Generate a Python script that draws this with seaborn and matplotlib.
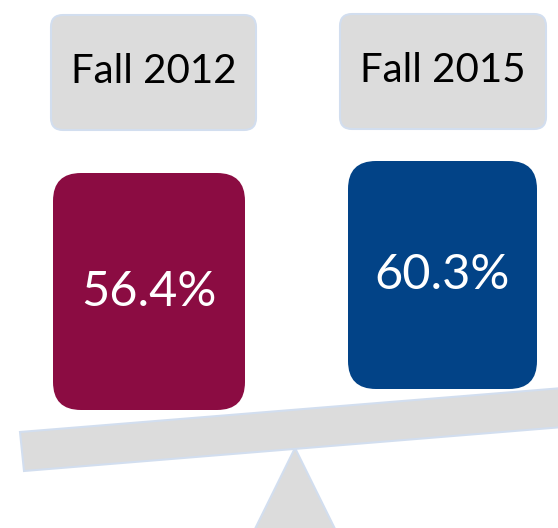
"""
Balance-scale infographic: share in Fall 2012 vs Fall 2015.
"""
import matplotlib.pyplot as plt
import seaborn as sns
from matplotlib.patches import FancyBboxPatch, Polygon

terms = ["Fall 2012", "Fall 2015"]
rates = [56.4, 60.3]
box_colors = ["#8B0C42", "#024387"]

# layout in pixel space (x from left, y from top)
label_boxes = [(51, 15, 205, 115), (340, 14, 206, 115)]
value_boxes = [(53, 173, 192, 237), (348, 161, 189, 228)]

sns.set_theme(style="white")
plt.rcParams["font.family"] = ["Lato", "DejaVu Sans"]

fig = plt.figure(figsize=(5.58, 5.28), dpi=100)
ax = fig.add_axes([0, 0, 1, 1])
ax.set_xlim(0, 558)
ax.set_ylim(528, 0)
ax.axis("off")

gray = "#DCDCDC"
edge = "#D2DEEF"

# fulcrum and beam
ax.add_patch(Polygon([(295, 448), (252, 535), (338, 535)], closed=True,
                     facecolor=gray, edgecolor=edge, lw=1.5))
ax.add_patch(Polygon([(20, 432), (24, 471), (600, 424), (600, 385)], closed=True,
                     facecolor=gray, edgecolor=edge, lw=1.5))

for term, rate, color, lb, vb in zip(terms, rates, box_colors, label_boxes, value_boxes):
    x, y, w, h = lb
    r = 12
    ax.add_patch(FancyBboxPatch((x + r, y + r), w - 2 * r, h - 2 * r,
                                boxstyle=f"round,pad={r}", facecolor=gray,
                                edgecolor=edge, lw=1.5))
    ax.text(x + w / 2, y + h / 2 - 1, term, ha="center", va="center",
            fontsize=29, color="black")

    x, y, w, h = vb
    r = 28
    ax.add_patch(FancyBboxPatch((x + r, y + r), w - 2 * r, h - 2 * r,
                                boxstyle=f"round,pad={r}", facecolor=color,
                                edgecolor="none"))
    ax.text(x + w / 2, y + h / 2, f"{rate}%", ha="center", va="center",
            fontsize=35, color="white")

fig.savefig("out.png", dpi=100)
